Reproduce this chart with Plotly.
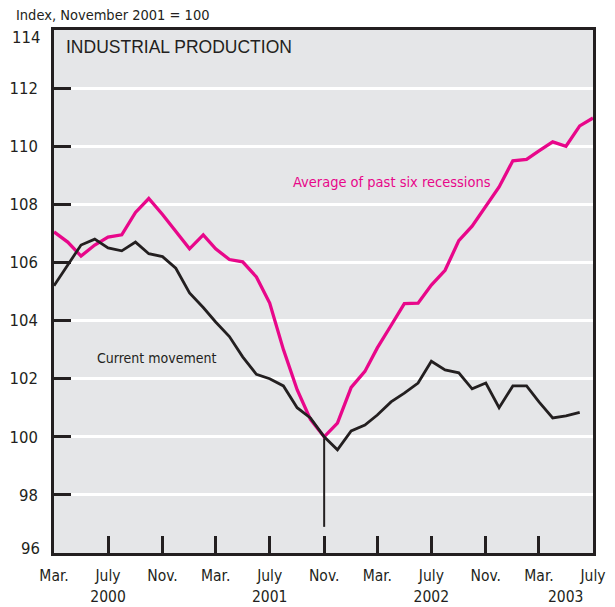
import pandas as pd
import plotly.graph_objects as go

months = pd.date_range("2000-03-01", "2003-07-01", freq="MS")

current = [105.2, 105.9, 106.6, 106.8, 106.5, 106.4, 106.7, 106.3, 106.2, 105.8,
           104.95, 104.45, 103.95, 103.45, 102.75, 102.15, 102.0, 101.75, 101.0, 100.65,
           100.0, 99.55, 100.2, 100.4, 100.75, 101.2, 101.5, 101.85, 102.6, 102.3,
           102.2, 101.65, 101.85, 101.0, 101.75, 101.75, 101.2, 100.65, 100.72, 100.84]

average = [107.05, 106.7, 106.22, 106.6, 106.87, 106.95, 107.72, 108.2, 107.65, 107.08,
           106.47, 106.95, 106.47, 106.1, 106.02, 105.5, 104.6, 103.0, 101.62, 100.6,
           100.0, 100.47, 101.7, 102.25, 103.06, 103.83, 104.58, 104.6, 105.22, 105.73,
           106.75, 107.25, 107.94, 108.6, 109.5, 109.55, 109.84, 110.15, 110.0, 110.7,
           110.97]

tick_dates = months[::4]
tick_text = ["Mar.", "July<br>2000", "Nov.", "Mar.", "July<br>2001", "Nov.", "Mar.",
             "July<br>2002", "Nov.", "Mar.", "July"]
last_year = "2003"
y_ticks = [98, 100, 102, 104, 106, 108, 110, 112]
y_min, y_max = 96, 114

trough = months[20]
trough_drop = [100, 96.9]

font = "DejaVu Sans Condensed, Liberation Sans Narrow, sans-serif"
wide_font = "Liberation Sans, Arial, sans-serif"
ink = "#231f20"
pink = "#e8078a"

fig = go.Figure()
fig.add_trace(go.Scatter(x=[trough, trough], y=trough_drop, mode="lines",
                         line=dict(color=ink, width=2), hoverinfo="skip"))
fig.add_trace(go.Scatter(x=months, y=average, mode="lines", name="Average of past six recessions",
                         line=dict(color=pink, width=3.3)))
fig.add_trace(go.Scatter(x=months[:len(current)], y=current, mode="lines", name="Current movement",
                         line=dict(color=ink, width=2.8)))

fig.add_annotation(x=0.018, y=0.99, xref="paper", yref="paper", text="INDUSTRIAL PRODUCTION",
                   showarrow=False, xanchor="left", yanchor="top",
                   font=dict(family=wide_font, size=17.5, color=ink))
fig.add_annotation(x=months[17] + pd.Timedelta(days=16), y=108.76,
                   text="Average of past six recessions",
                   showarrow=False, xanchor="left", yanchor="middle",
                   font=dict(family=font, size=14.5, color=pink))
fig.add_annotation(x=months[3], y=102.72, text="Current movement",
                   showarrow=False, xanchor="left", yanchor="middle",
                   font=dict(family=font, size=14, color=ink))
fig.add_annotation(x=-0.074, y=1.029, xref="paper", yref="paper", text="Index, November 2001 = 100",
                   showarrow=False, xanchor="left", yanchor="middle",
                   font=dict(family=font, size=14.5, color=ink))
# year under the last two labels
fig.add_annotation(x=months[38], y=-0.084, yref="paper", text=last_year,
                   showarrow=False, xanchor="center", yanchor="middle",
                   font=dict(family=font, size=15.5, color=ink))
# end labels of the y axis sit just inside the frame
fig.add_annotation(x=0, xref="paper", y=y_max, text=str(y_max), showarrow=False,
                   xanchor="right", yanchor="middle", xshift=-12, yshift=-7,
                   font=dict(family=font, size=16.5, color=ink))
fig.add_annotation(x=0, xref="paper", y=y_min, text=str(y_min), showarrow=False,
                   xanchor="right", yanchor="middle", xshift=-12, yshift=5,
                   font=dict(family=font, size=16.5, color=ink))

fig.update_xaxes(range=[months[0], months[-1]], tickvals=tick_dates, ticktext=tick_text,
                 ticks="inside", ticklen=17, tickwidth=2.5, tickcolor=ink,
                 showgrid=False, zeroline=False, automargin=False,
                 showline=True, linecolor=ink, linewidth=2.5, mirror=True,
                 ticklabelstandoff=7,
                 tickfont=dict(family=font, size=15.5, color=ink))
fig.update_yaxes(range=[y_min, y_max], tickvals=y_ticks,
                 ticks="inside", ticklen=17, tickwidth=2.5, tickcolor=ink,
                 showgrid=True, gridcolor="white", gridwidth=2.5, zeroline=False,
                 showline=True, linecolor=ink, linewidth=2.5, mirror=True,
                 ticklabelstandoff=10, automargin=False,
                 tickfont=dict(family=font, size=16.5, color=ink))

# the page body adds 8px around the figure, so the figure is 8px smaller
fig.update_layout(width=607, height=599, margin=dict(l=46, r=22, t=22, b=54),
                  plot_bgcolor="#e5e6e8", paper_bgcolor="white", showlegend=False)

fig.write_html("out.html")
